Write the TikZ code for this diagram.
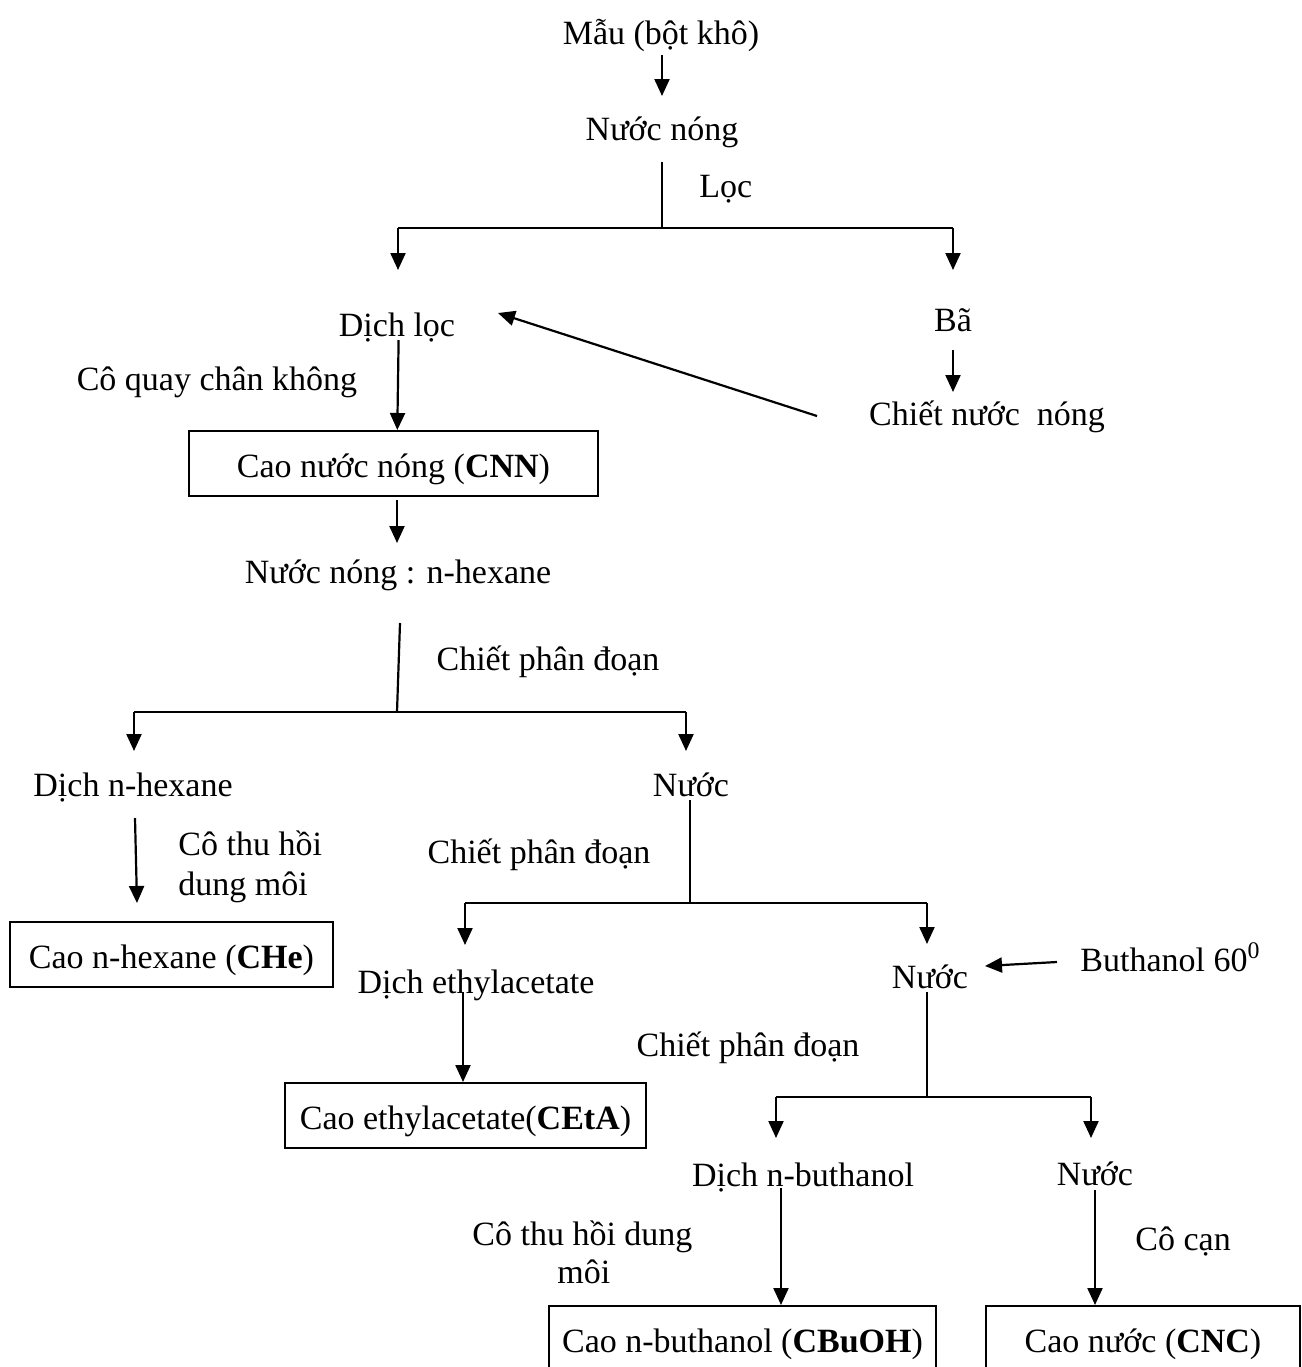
\documentclass[tikz,border=0pt]{standalone}
\usepackage{fontspec}
\setmainfont{Liberation Serif}
\usetikzlibrary{arrows.meta,calc}
\begin{document}
\begin{tikzpicture}[x=0.5pt,y=-0.5pt,
  every node/.style={font=\fontsize{17}{20}\selectfont},
  lbl/.style={anchor=base,inner sep=0pt,yshift=-1.5pt},
  lblw/.style={anchor=base west,inner sep=0pt,yshift=-1.5pt},
  boxn/.style={draw,line width=1pt,inner sep=0pt,text height=13.5pt,text depth=0pt,minimum height=32.5pt},
  arr/.style={line width=1.1pt,-{Triangle[length=8.5pt,width=7.5pt]}},
  ln/.style={line width=1.1pt}]
\useasboundingbox (0,0) rectangle (1302,1367);
\clip (0,0) rectangle (1302,1367);

% ---------- text nodes ----------
\node[lbl] (mau) at (661,41) {Mẫu (bột khô)};
\node[lbl] (nn1) at (662,137) {Nước nóng};
\node[lblw] (loc) at (699,194) {Lọc};
\node[lbl] (dl) at (397,333) {Dịch lọc};
\node[lbl] (ba) at (953,328) {Bã};
\node[lbl] (cnuoc) at (987,422) {Chiết nước\ \ nóng};
\node[lbl] (cq) at (217,387) {Cô quay chân không};
\node[boxn,minimum width=204.5pt] (cnn) at (393.5,463.5) {Cao nước nóng (\textbf{CNN})};
\node[lbl] (nh) at (398,580) {Nước nóng : n-hexane};
\node[lbl] (cpd1) at (548,667) {Chiết phân đoạn};
\node[lbl] (dnh) at (133,793) {Dịch n-hexane};
\node[lblw] (cth) at (178,852) {Cô thu hồi};
\node[lblw] (dm) at (178,892) {dung môi};
\node[boxn,minimum width=161.5pt] (che) at (171.5,954.5) {Cao n-hexane (\textbf{CHe})};
\node[lbl] (nuoc2) at (691,793) {Nước};
\node[lbl] (cpd2) at (539,860) {Chiết phân đoạn};
\node[lbl] (dea) at (476,990) {Dịch ethylacetate};
\node[boxn,minimum width=180.5pt] (ceta) at (465.5,1115.5) {Cao ethylacetate(\textbf{CEtA})};
\node[lbl] (nuoc3) at (930,985) {Nước};
\node[lblw] (but) at (1080,968) {Buthanol 60\textsuperscript{0}};
\node[lbl] (cpd3) at (748,1053) {Chiết phân đoạn};
\node[lbl] (dnb) at (803,1183) {Dịch n-buthanol};
\node[lbl] (nuoc4) at (1095,1182) {Nước};
\node[lblw] (cthd) at (472,1242) {Cô thu hồi dung};
\node[lblw] (moi) at (557,1280) {môi};
\node[lblw] (ccan) at (1135,1247) {Cô cạn};
\node[boxn,minimum width=193.5pt] (cbuoh) at (742.5,1338.5) {Cao n-buthanol (\textbf{CBuOH})};
\node[boxn,minimum width=157pt] (cnc) at (1143,1338.5) {Cao nước (\textbf{CNC})};

% ---------- connector end points ----------
\coordinate (a1s) at (662,55);  \coordinate (a1e) at (662,96);
\coordinate (l1s) at (662,162); \coordinate (j1) at (662,228);
\coordinate (j1l) at (398,228); \coordinate (j1r) at (953,228);
\coordinate (t1l) at (398,270); \coordinate (t1r) at (953,270);
\coordinate (bas) at (953,350); \coordinate (bae) at (953,392);
\coordinate (dgs) at (817,416); \coordinate (dge) at (498,313);
\coordinate (dls) at (398.6,340);
\coordinate (cns) at (397,500); \coordinate (cne) at (397,543);
\coordinate (l2s) at (400,623); \coordinate (j2) at (397,712);
\coordinate (j2l) at (134,712); \coordinate (j2r) at (686,712);
\coordinate (t2l) at (134,751); \coordinate (t2r) at (686,751);
\coordinate (hxs) at (135,818); \coordinate (hxe) at (137,903);
\coordinate (l3s) at (690,800); \coordinate (j3) at (690,903);
\coordinate (j3l) at (465,903); \coordinate (j3r) at (927,903);
\coordinate (t3l) at (465,945); \coordinate (t3r) at (927,944);
\coordinate (eas) at (463,992);
\coordinate (bts) at (1057,962); \coordinate (bte) at (985,966);
\coordinate (l4s) at (927,992); \coordinate (j4) at (927,1097);
\coordinate (j4l) at (776,1097); \coordinate (j4r) at (1091,1097);
\coordinate (t4l) at (776,1138); \coordinate (t4r) at (1091,1138);
\coordinate (nbs) at (781,1188);
\coordinate (ncs) at (1095,1190);

% ---------- connectors ----------
\draw[arr] (a1s) -- (a1e);
\draw[ln] (l1s) -- (j1);
\draw[ln] (j1l) -- (j1r);
\draw[arr] (j1l) -- (t1l);
\draw[arr] (j1r) -- (t1r);
\draw[arr] (bas) -- (bae);
\draw[arr] (dgs) -- (dge);
\draw[arr] (dls) -- (cnn.north -| 397.3,0);
\draw[arr] (cns) -- (cne);
\draw[ln] (l2s) -- (j2);
\draw[ln] (j2l) -- (j2r);
\draw[arr] (j2l) -- (t2l);
\draw[arr] (j2r) -- (t2r);
\draw[arr] (hxs) -- (hxe);
\draw[ln] (l3s) -- (j3);
\draw[ln] (j3l) -- (j3r);
\draw[arr] (j3l) -- (t3l);
\draw[arr] (j3r) -- (t3r);
\draw[arr] (eas) -- (ceta.north -| eas);
\draw[arr] (bts) -- (bte);
\draw[ln] (l4s) -- (j4);
\draw[ln] (j4l) -- (j4r);
\draw[arr] (j4l) -- (t4l);
\draw[arr] (j4r) -- (t4r);
\draw[arr] (nbs) -- (cbuoh.north -| nbs);
\draw[arr] (ncs) -- (cnc.north -| ncs);
\end{tikzpicture}
\end{document}
